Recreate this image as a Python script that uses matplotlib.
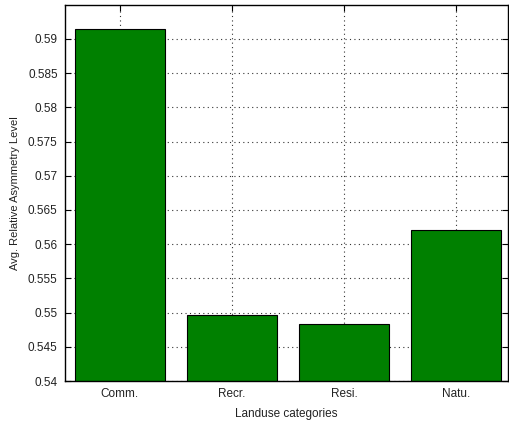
import matplotlib
matplotlib.use("Agg")
import matplotlib.pyplot as plt
from matplotlib.ticker import FormatStrFormatter, MultipleLocator

categories = ["Comm.", "Recr.", "Resi.", "Natu."]
asymmetry = [0.5914, 0.5496, 0.5484, 0.5621]

plt.rcParams["font.family"] = ["Liberation Sans", "DejaVu Sans"]

fig = plt.figure(figsize=(5.09, 4.21), dpi=100)
ax = fig.add_axes([0.127, 0.095, 0.871, 0.892])

x = range(len(categories))
ax.bar(x, asymmetry, width=0.8, color="#008000", edgecolor="black",
       linewidth=0.8, zorder=2)

ax.set_ylim(0.54, 0.5949)
ax.set_xlim(-0.49, 3.46)
ax.set_xticks(list(x))
ax.set_xticklabels(categories, fontsize=8.5)
ax.yaxis.set_major_locator(MultipleLocator(0.005))
ax.yaxis.set_major_formatter(FormatStrFormatter("%g"))
ax.tick_params(axis="both", direction="in", length=4, width=0.8,
               top=True, right=True, labelsize=8.5, pad=5,
               labelcolor="#222222")

ax.grid(True, linestyle=(0, (1, 3)), color="#333333", linewidth=0.8, zorder=0)
ax.set_axisbelow(True)

ax.set_xlabel("Landuse categories", fontsize=8.5, labelpad=6, color="#222222")
ax.set_ylabel("Avg. Relative Asymmetry Level", fontsize=8, labelpad=6,
              color="#222222")

for s in ax.spines.values():
    s.set_linewidth(1.0)

fig.savefig("out.png", dpi=100)
